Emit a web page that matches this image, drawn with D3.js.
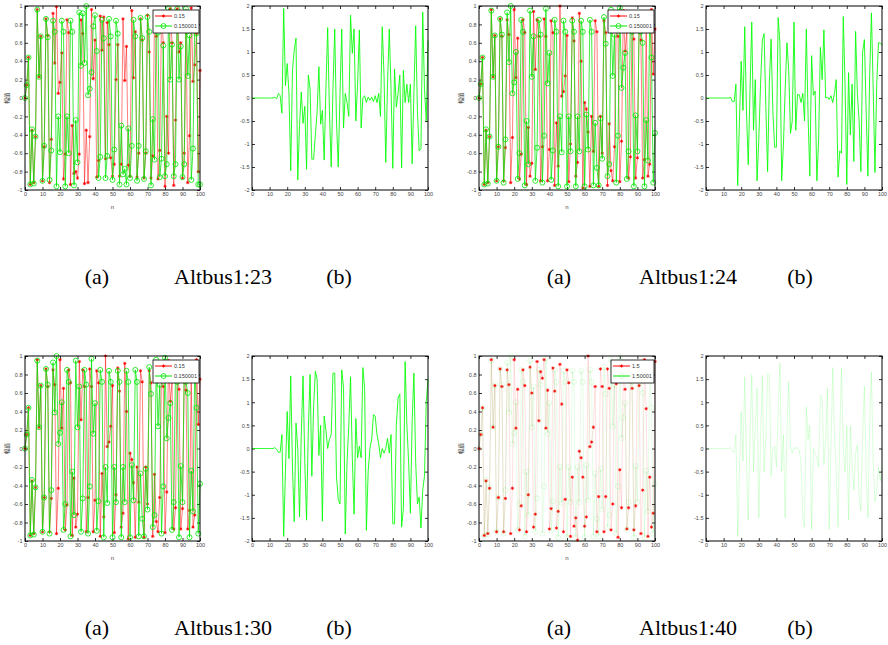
<!DOCTYPE html>
<html>
<head>
<meta charset="utf-8">
<script src="https://cdn.jsdelivr.net/npm/d3@7"></script>
<style>
  body { margin: 0; background: #fff; }
</style>
</head>
<body>
<svg id="fig" width="888" height="645"></svg>
<script>
// x index of every sequence: n = 0 .. 100
const nIdx = d3.range(0, 101);
const xTicks = [0, 10, 20, 30, 40, 50, 60, 70, 80, 90, 100];
const yTicksA = [-1, -0.8, -0.6, -0.4, -0.2, 0, 0.2, 0.4, 0.6, 0.8, 1];
const yTicksB = [-2, -1.5, -1, -0.5, 0, 0.5, 1, 1.5, 2];

// Altbus1:23, (a) two sequences, (b) their difference
const red23 = [
  0, 0.14, 0.44, -0.94, -0.35, -0.92, -0.42, 0.96, 0.23, 0.67,
  -0.90, -0.53, 0.86, 0.68, -0.92, -0.45, 0.92, 0.38, 0.99, 0.05,
  0.17, 0.49, -0.88, -0.61, 0.85, 0.71, -0.94, -0.30, -0.82, -0.80,
  -0.87, -0.61, 0.85, 0.70, -0.93, -0.35, -0.92, -0.42, 0.96, 0.21,
  0.63, -0.86, -0.68, 0.89, 0.52, 0.88, -0.66, 0.82, 0.58, -0.65,
  -0.85, -0.72, 0.20, 0.58, -0.85, -0.72, 0.86, 0.19, 0.56, -0.73,
  -0.85, 0.95, 0.22, 0.72, -0.86, -0.60, 0.86, 0.63, -0.87, -0.60,
  0.90, 0.50, -0.87, -0.63, 0.88, 0.67, -0.88, -0.57, 0.90, 0.60,
  -0.96, -0.20, -0.60, 0.97, 0.60, -0.95, -0.24, 0.97, 0.50, 0.60,
  -0.87, -0.60, 0.90, -0.92, -0.41, 0.98, 0.18, 0.36, 0.70, -0.80, 0.30];
const green23 = [
  0, 0.14, 0.44, -0.94, -0.34, -0.93, -0.42, 0.96, 0.23, 0.67,
  -0.90, -0.52, 0.86, 0.66, -0.89, -0.57, 0.84, 0.72, -0.96, -0.20,
  -0.59, 0.84, 0.72, -0.96, -0.20, -0.60, 0.84, 0.72, -0.95, -0.24,
  -0.70, 0.93, 0.35, 0.92, 0.38, 1.00, 0.03, 0.10, 0.28, 0.78,
  0.90, 0.51, -0.87, -0.64, 0.85, 0.65, -0.87, -0.63, 0.86, 0.67,
  -0.89, -0.56, 0.84, 0.70, -0.94, -0.30, -0.83, -0.77, -0.94, -0.33,
  -0.87, -0.52, 0.85, 0.67, -0.90, -0.52, 0.87, 0.65, -0.88, -0.58,
  0.88, 0.72, -0.95, -0.23, -0.67, 0.85, 0.71, -0.86, -0.66, 0.57,
  -0.85, -0.72, 0.97, 0.20, 0.58, -0.85, -0.72, 0.97, 0.20, 0.56,
  -0.86, -0.72, 0.97, 0.24, 0.68, -0.89, -0.55, 0.85, 0.70, -0.94, -0.94];
const diff23 = [
  0, 0, 0, 0, 0, 0, 0, 0, 0, 0,
  0, 0, 0, 0.02, -0.02, 0.10, 0.05, -0.33, 1.95, 0.27,
  0.75, 0.10, -1.58, 0.60, 1.05, 1.30, -1.78, -0.60, 0.13, -0.55,
  -0.18, -1.55, 0.50, 0.20, -1.33, -1.33, -0.80, -0.30, 0.68, -0.57,
  -0.27, -1.35, 0.20, 1.53, -0.30, -1.50, 0.20, 1.50, -0.50, -1.50,
  0.10, 1.50, -0.65, 0.10, -0.10, -0.40, 1.80, 0.97, 1.50, -0.50,
  0.30, 1.48, -0.65, 0.00, 0.05, -0.10, 0.02, -0.05, 0.02, -0.08,
  0.05, -0.10, 0.10, -0.40, 1.55, 0.50, -1.40, 0.30, 1.50, 0.20,
  -1.53, 0.63, -0.20, 0.10, 0.50, -1.52, 0.60, -0.10, 0.30, -0.10,
  0.30, -1.43, 0.10, 1.57, -0.30, -1.15, -1.10, 1.87, 0.20, -0.50, 1.25];

// Altbus1:24 (the (a) sequences of Altbus1:30 look the same)
const red24 = [
  0, 0.15, 0.44, -0.94, -0.35, -0.92, -0.42, 0.96, 0.23, 0.68,
  -0.90, -0.53, 0.86, 0.67, -0.90, -0.54, 0.85, 0.69, -0.92, -0.43,
  0.96, 0.22, 0.65, -0.88, -0.61, 0.85, 0.71, -0.94, -0.32, -0.85,
  -0.71, 0.94, 0.31, 0.85, 0.67, -0.90, -0.53, 0.86, 0.67, -0.90,
  -0.56, 0.84, 0.71, -0.95, -0.27, -0.74, 1.00, 0.02, 0.07, 0.24,
  0.68, -0.91, -0.50, 0.87, 0.62, -0.85, -0.70, 0.92, 0.40, -0.98,
  -0.05, -0.12, -0.37, -0.96, -0.20, -0.58, 0.84, 0.72, -0.96, -0.20,
  -0.60, 0.84, 0.71, -0.95, -0.28, -0.79, -0.90, -0.53, 0.86, 0.67,
  -0.91, -0.47, 0.95, 0.51, 0.72, -0.87, -0.64, 0.85, 0.64, -0.87,
  -0.65, 0.85, 0.63, -0.87, -0.67, 0.78, -0.85, -0.72, 0.96, 0.26, 0.75];
const green24 = [
  0, 0.15, 0.44, -0.94, -0.34, -0.93, -0.42, 0.95, 0.23, 0.68,
  -0.90, -0.53, 0.86, 0.69, -0.92, -0.45, 0.93, 0.39, 1.00, 0.05,
  0.17, 0.50, -0.88, -0.60, 0.85, 0.72, -0.95, -0.25, -0.72, 0.95,
  0.23, 0.67, -0.90, -0.54, 0.85, 0.69, -0.92, -0.41, 0.97, 0.16,
  0.49, -0.89, -0.57, 0.85, 0.72, -0.96, -0.20, -0.59, 0.84, 0.72,
  -0.96, -0.20, -0.58, 0.84, 0.72, -0.96, -0.20, -0.58, 0.84, 0.72,
  -0.96, -0.18, -0.56, 0.85, 0.72, -0.95, -0.27, -0.76, -0.95, -0.22,
  -0.66, 0.88, 0.59, -0.85, -0.72, 0.96, 0.24, 0.69, -0.92, -0.41,
  0.98, 0.11, 0.33, 0.49, -0.88, -0.58, 0.84, 0.72, -0.96, -0.19,
  -0.58, 0.84, 0.72, 0.60, -0.96, -0.24, -0.68, 0.90, 0.44, -0.92, -0.38];
const diff24 = [
  0, 0, 0, 0, 0, 0, 0, 0, 0, 0,
  0, 0, 0, 0, 0.01, -0.08, -0.08, 0.30, -1.90, -0.50,
  0.80, -0.27, 1.55, -0.28, -1.45, 0.15, 1.65, -0.70, 0.40, -1.80,
  -0.90, 0.30, 1.25, 1.40, -0.20, -1.60, 0.35, 1.28, -0.30, -1.07,
  -1.07, 1.75, 1.20, -1.80, -1.00, 0.20, 1.20, 0.60, -0.77, -0.50,
  1.65, -0.70, 0.08, 0.07, -0.10, 0.10, -0.50, 1.50, -0.40, -1.70,
  0.92, 0.06, 0.15, -1.80, -0.90, 1.10, 0.40, 1.48, 0.00, 0.02,
  -0.03, 0.05, -0.10, 0.10, 0.40, -1.72, -1.15, -1.20, 1.77, 0.30,
  -1.88, 0.55, -0.80, 0.30, -1.38, 1.45, 0.10, -0.50, -1.60, 1.00,
  1.27, -0.30, -1.70, 0.50, 1.85, 0.20, -1.62, 0.30, 1.20, 1.20, 1.15];

// Altbus1:30
const red30 = red24;
const green30 = green24;
const diff30 = [
  0, 0, 0, 0, 0, 0, 0, 0, 0, 0,
  0, 0, 0, 0.02, -0.02, -0.08, -0.08, 0.30, -1.90, -0.50,
  0.80, -0.22, 1.57, -0.40, -1.58, 0.55, 0.00, -1.48, 0.30, 1.57,
  -0.30, -1.55, 0.40, 1.60, -0.60, 0.90, 1.67, 1.50, -0.15, 0.50,
  -1.57, 0.70, 0.40, 0.00, 0.20, 0.30, 1.63, 1.63, -0.60, -1.10,
  -1.20, 1.70, 1.30, -1.85, -0.30, 0.50, 1.55, -0.20, -1.42, 0.65,
  -0.20, 0.05, -0.20, 1.75, 1.30, -1.77, -0.50, 0.00, 0.20, 0.73,
  0.70, 0.30, 0.10, -0.20, 0.00, -0.10, 0.00, 0.22, -0.10, 0.30,
  -1.63, -1.63, 0.50, 1.10, 1.18, -1.70, -1.30, 1.88, 0.50, -0.30,
  -1.40, 0.60, 1.63, -0.30, -1.20, -1.05, -1.72, -0.90, -0.60, 1.00, 1.50];

// Altbus1:40
const red40 = [
  0, 0.15, 0.44, -0.94, -0.35, -0.92, -0.43, 0.96, 0.23, 0.68,
  -0.90, -0.53, 0.86, 0.67, -0.90, -0.54, 0.85, 0.69, -0.92, -0.43,
  0.96, 0.22, 0.64, -0.88, -0.62, 0.85, 0.68, -0.90, -0.50, 0.88,
  0.60, -0.85, -0.71, 0.94, 0.30, 0.83, 0.76, 0.96, 0.22, 0.63,
  -0.87, -0.65, 0.87, 0.62, -0.86, -0.68, 0.91, 0.48, -0.90, -0.55,
  0.85, 0.71, -0.95, -0.31, -0.84, -0.75, -0.99, -0.03, -0.10, -0.31,
  -0.84, -0.74, 1.00, 0.02, 0.07, 0.23, 0.67, -0.90, -0.52, 0.86,
  0.67, -0.90, -0.52, 0.86, 0.65, -0.88, -0.60, 0.86, 0.70, -0.96,
  -0.23, -0.64, 0.86, 0.64, -0.87, -0.64, 0.86, 0.65, -0.88, -0.62,
  0.86, 0.68, -0.92, -0.45, 0.96, 0.43, -0.95, -0.31, -0.85, -0.70, 0.94];
const green40 = green24;
const diff40 = [
  0, 0, 0, 0, 0, 0, 0, 0, 0, 0,
  0, 0, 0, 0, 0.02, -0.05, -0.08, 0.30, -1.90, -0.50,
  0.80, -0.27, 1.55, -0.30, -1.55, 0.30, 1.60, -0.50, 0.50, 1.30,
  -1.50, 0.20, 1.58, -0.50, 0.20, 1.62, 1.60, -0.60, 0.00, 0.05,
  -0.40, 0.80, 1.85, -0.50, 0.30, -1.50, 0.40, 1.45, 0.00, -0.10,
  0.02, 0.00, 0.02, -0.05, -0.30, -1.50, -1.70, 0.90, 0.20, 0.50,
  -1.75, 0.00, -0.10, -0.20, -0.40, 1.15, 1.10, -0.35, 0.20, 1.30,
  -1.75, 0.00, 1.75, 0.30, -0.50, -1.70, 0.30, 1.75, 0.00, -0.50,
  0.50, -1.55, 0.48, -0.30, -0.90, -0.10, 0.08, -1.00, -1.35, 0.30,
  1.35, -0.50, -1.50, 0.50, 1.65, -0.30, -1.15, -0.90, -0.40, -0.70, -0.40];

const captions = [
  {x: [97, 223, 339], y: 284, text: ['(a)', 'Altbus1:23', '(b)']},
  {x: [559, 688, 800], y: 284, text: ['(a)', 'Altbus1:24', '(b)']},
  {x: [97, 223, 339], y: 635, text: ['(a)', 'Altbus1:30', '(b)']},
  {x: [559, 688, 800], y: 635, text: ['(a)', 'Altbus1:40', '(b)']}
];

const svg = d3.select('#fig');
const tickFont = 'Liberation Sans, Arial, sans-serif';
// small matlab-like '*' marker
const starPath = 'M-1.6,0H1.6M0,-1.6V1.6M-1.1,-1.1L1.1,1.1M-1.1,1.1L1.1,-1.1';

function drawPanel(p) {
    const x = d3.scaleLinear().domain([0, 100]).range([p.left, p.right]);
    const y = d3.scaleLinear().domain(p.yDomain).range([p.bottom, p.top]);
    const g = svg.append('g');

    // ticks on all four sides, pointing inwards
    const axes = [
        {axis: d3.axisBottom(x).tickValues(xTicks), t: `translate(0,${p.bottom})`, labels: true},
        {axis: d3.axisTop(x).tickValues(xTicks), t: `translate(0,${p.top})`, labels: false},
        {axis: d3.axisLeft(y).tickValues(p.yTicks), t: `translate(${p.left},0)`, labels: true},
        {axis: d3.axisRight(y).tickValues(p.yTicks), t: `translate(${p.right},0)`, labels: false}
    ];
    axes.forEach(a => {
        const ag = g.append('g')
            .attr('transform', a.t)
            .call(a.axis.tickSizeInner(-3).tickSizeOuter(0).tickPadding(2.5)
                .tickFormat(a.labels ? (d => String(d)) : ''));
        ag.select('.domain').remove();
        ag.selectAll('line').attr('stroke', '#000').attr('stroke-width', 0.8);
        ag.selectAll('text')
            .attr('font-family', tickFont)
            .attr('font-size', 5.5)
            .attr('fill', '#444');
    });

    const line = d3.line()
        .x((d, i) => x(nIdx[i]))
        .y(d => y(d));

    p.series.forEach(s => {
        g.append('path')
            .datum(s.values)
            .attr('fill', 'none')
            .attr('stroke', s.color)
            .attr('stroke-width', 1)
            .attr('stroke-opacity', s.lineOpacity)
            .attr('d', line);

        if (s.marker === 'star') {
            g.append('g').selectAll('path')
                .data(s.values)
                .enter()
                .append('path')
                .attr('transform', (d, i) => `translate(${x(nIdx[i])},${y(d)})`)
                .attr('d', starPath)
                .attr('stroke', s.color)
                .attr('stroke-width', 0.8)
                .attr('stroke-opacity', s.markerOpacity);
        } else if (s.marker === 'circle') {
            g.append('g').selectAll('circle')
                .data(s.values)
                .enter()
                .append('circle')
                .attr('cx', (d, i) => x(nIdx[i]))
                .attr('cy', d => y(d))
                .attr('r', 2.5)
                .attr('fill', 'none')
                .attr('stroke', s.color)
                .attr('stroke-width', 0.8)
                .attr('stroke-opacity', s.markerOpacity);
        }
    });

    // frame
    g.append('rect')
        .attr('x', p.left)
        .attr('y', p.top)
        .attr('width', p.right - p.left)
        .attr('height', p.bottom - p.top)
        .attr('fill', 'none')
        .attr('stroke', '#000')
        .attr('stroke-width', 1);

    if (p.legend) {
        const lw = p.legend.width;
        const lg = g.append('g')
            .attr('transform', `translate(${p.right - lw - 1},${p.top + 4})`);
        lg.append('rect')
            .attr('width', lw)
            .attr('height', 23)
            .attr('fill', '#fff')
            .attr('stroke', '#000')
            .attr('stroke-width', 0.8);
        p.series.forEach((s, i) => {
            const ly = 6 + i * 10;
            lg.append('line')
                .attr('x1', 2).attr('x2', 19)
                .attr('y1', ly).attr('y2', ly)
                .attr('stroke', s.color)
                .attr('stroke-width', 1);
            if (s.marker === 'star') {
                lg.append('path')
                    .attr('transform', `translate(10.5,${ly})`)
                    .attr('d', starPath)
                    .attr('stroke', s.color)
                    .attr('stroke-width', 0.8);
            } else {
                lg.append('circle')
                    .attr('cx', 10.5).attr('cy', ly).attr('r', 2.5)
                    .attr('fill', 'none')
                    .attr('stroke', s.color)
                    .attr('stroke-width', 0.8)
                    .attr('stroke-opacity', s.markerOpacity);
            }
            lg.append('text')
                .attr('x', 21)
                .attr('y', ly + 2)
                .attr('font-family', tickFont)
                .attr('font-size', 5.5)
                .attr('fill', '#333')
                .text(p.legend.labels[i]);
        });
    }

    if (p.xLabel) {
        g.append('text')
            .attr('x', (p.left + p.right) / 2)
            .attr('y', p.bottom + 19)
            .attr('text-anchor', 'middle')
            .attr('font-family', tickFont)
            .attr('font-size', 6)
            .attr('fill', '#444')
            .text('n');
    }
    if (p.yLabel) {
        g.append('text')
            .attr('transform', `translate(${p.left - 16},${(p.top + p.bottom) / 2}) rotate(-90)`)
            .attr('text-anchor', 'middle')
            .attr('font-family', 'Noto Sans CJK SC, sans-serif')
            .attr('font-size', 5.5)
            .attr('fill', '#444')
            .text('幅值');
    }
}

function seqPanel(left, right, top, bottom, red, green, labels, faint) {
    return {
        left: left, right: right, top: top, bottom: bottom,
        yDomain: [-1, 1], yTicks: yTicksA, xLabel: true, yLabel: true,
        legend: {labels: labels, width: faint ? 43 : 46},
        series: [
            {values: red, color: '#ff0000', marker: 'star', lineOpacity: faint ? 0.12 : 0.5, markerOpacity: 1},
            {values: green, color: '#00e600', marker: 'circle', lineOpacity: faint ? 0.1 : 0.75, markerOpacity: faint ? 0.15 : 1}
        ]
    };
}

function diffPanel(left, right, top, bottom, diff, faint) {
    return {
        left: left, right: right, top: top, bottom: bottom,
        yDomain: [-2, 2], yTicks: yTicksB,
        series: [{values: diff, color: '#00ff00', marker: null, lineOpacity: faint ? 0.15 : 0.85}]
    };
}

const panels = [
    seqPanel(25, 200, 6, 190, red23, green23, ['0.15', '0.150001'], false),
    diffPanel(252, 428, 6, 190, diff23, false),
    seqPanel(479, 655, 6, 190, red24, green24, ['0.15', '0.150001'], false),
    diffPanel(706, 882, 6, 190, diff24, false),
    seqPanel(25, 200, 356, 541, red30, green30, ['0.15', '0.150001'], false),
    diffPanel(252, 428, 356, 541, diff30, false),
    seqPanel(479, 655, 356, 541, red40, green40, ['1.5', '1.50001'], true),
    diffPanel(706, 882, 356, 541, diff40, true)
];
panels.forEach(drawPanel);

captions.forEach(c => {
    c.text.forEach((t, i) => {
        svg.append('text')
            .attr('x', c.x[i])
            .attr('y', c.y)
            .attr('text-anchor', 'middle')
            .attr('font-family', 'Liberation Serif, Times New Roman, serif')
            .attr('font-size', 22)
            .attr('fill', '#000')
            .text(t);
    });
});
</script>
</body>
</html>
